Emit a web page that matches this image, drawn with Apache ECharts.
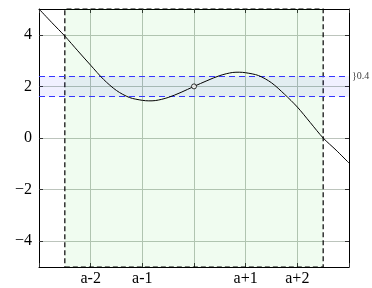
<!DOCTYPE html>
<html>
<head>
<meta charset="utf-8">
<script src="https://cdn.jsdelivr.net/npm/echarts@6/dist/echarts.min.js"></script>
<style>
html,body{margin:0;padding:0;background:#fff;}
#chart{width:372px;height:288px;}
</style>
</head>
<body>
<div id="chart"></div>
<script>
// curve samples (x offset from a)
var curveX = [-3, -2.75, -2.5, -2.25, -2, -1.75, -1.5, -1.25, -1, -0.875, -0.75, -0.5, -0.25, 0, 0.25, 0.5, 0.75, 0.875, 1, 1.25, 1.5, 1.75, 2, 2.25, 2.5, 2.75, 3];
var curveY = [5.0, 4.47, 3.95, 3.38, 2.82, 2.27, 1.84, 1.57, 1.46, 1.44, 1.45, 1.57, 1.77, 2.0, 2.22, 2.42, 2.54, 2.55, 2.53, 2.42, 2.14, 1.7, 1.2, 0.6, 0.0, -0.47, -0.97];
// the marked point
var pointX = 0;
var pointY = 2;
// epsilon band
var epsilon = 0.4;
// delta region (x range)
var deltaRange = [-2.5, 2.5];
// axes
var xRange = [-3, 3];
var yRange = [-5, 5];
var xTickValues = [-3, -2, -1, 0, 1, 2, 3];
var xTickLabels = ['', 'a-2', 'a-1', '', 'a+1', 'a+2', ''];
var yTickValues = [-4, -2, 0, 2, 4];
var epsLabel = '}0.4';

var curveData = curveX.map(function (x, i) { return [x, curveY[i]]; });
var FONT = '"Liberation Serif", serif';

var chart = echarts.init(document.getElementById('chart'), null, {renderer: 'canvas'});
var tickStyle = {color: '#333', width: 1};
var option = {
  animation: false,
  textStyle: {fontFamily: FONT},
  grid: {left: 39, right: 23, top: 9, bottom: 21, containLabel: false},
  xAxis: [{
    type: 'value', min: xRange[0], max: xRange[1], interval: 1, position: 'bottom',
    axisLine: {show: true, onZero: false, lineStyle: {color: '#000', width: 1}},
    axisTick: {show: true, inside: true, length: 4, lineStyle: tickStyle},
    axisLabel: {
      show: true, margin: 4, color: '#000', fontFamily: FONT, fontSize: 16,
      formatter: function (v) { var i = xTickValues.indexOf(v); return i >= 0 ? xTickLabels[i] : ''; }
    },
    splitLine: {show: true, lineStyle: {color: '#bcc4bc', width: 1}}
  }, {
    type: 'value', min: xRange[0], max: xRange[1], interval: 1, position: 'top',
    axisLine: {show: true, onZero: false, lineStyle: {color: '#000', width: 1}},
    axisTick: {show: true, inside: true, length: 4, lineStyle: tickStyle},
    axisLabel: {show: false},
    splitLine: {show: false}
  }],
  yAxis: [{
    type: 'value', min: yRange[0], max: yRange[1], splitNumber: 5, position: 'left',
    axisLine: {show: true, onZero: false, lineStyle: {color: '#000', width: 1}},
    axisTick: {show: true, inside: true, length: 4, lineStyle: tickStyle, customValues: yTickValues},
    axisLabel: {
      show: true, margin: 7, color: '#000', fontFamily: FONT, fontSize: 16, customValues: yTickValues,
      formatter: function (v) { return v < 0 ? '\u2212' + (-v) : String(v); }
    },
    splitLine: {show: true, lineStyle: {color: '#bcc4bc', width: 1}}
  }, {
    type: 'value', min: yRange[0], max: yRange[1], splitNumber: 5, position: 'right',
    axisLine: {show: true, onZero: false, lineStyle: {color: '#000', width: 1}},
    axisTick: {show: true, inside: true, length: 4, lineStyle: tickStyle, customValues: yTickValues},
    axisLabel: {show: false},
    splitLine: {show: false}
  }],
  series: [{
    name: 'regions', type: 'line', data: [], xAxisIndex: 0, yAxisIndex: 0, z: 2,
    markArea: {
      silent: true,
      data: [
        [{coord: [deltaRange[0], yRange[0]], itemStyle: {color: 'rgba(0,204,0,0.06)', borderColor: '#000', borderWidth: 1.2, borderType: [5, 3]}},
         {coord: [deltaRange[1], yRange[1]]}],
        [{coord: [xRange[0], pointY - epsilon], itemStyle: {color: 'rgba(0,0,255,0.06)', borderWidth: 0}},
         {coord: [xRange[1], pointY + epsilon]}]
      ]
    },
    markLine: {
      silent: true, symbol: ['none', 'none'],
      label: {show: false},
      lineStyle: {color: '#3535ff', width: 1, type: [6, 4]},
      data: [{yAxis: pointY - epsilon}, {yAxis: pointY + epsilon}]
    },
    markPoint: {
      silent: true, symbol: 'circle', symbolSize: 0,
      label: {show: true, position: 'right', distance: 3, color: '#444', fontFamily: FONT, fontSize: 10,
        formatter: function () { return epsLabel; }},
      data: [{coord: [xRange[1], pointY + epsilon]}]
    }
  }, {
    name: 'f', type: 'line', data: curveData, smooth: 0.3, showSymbol: false, z: 5,
    lineStyle: {color: '#000', width: 1}
  }, {
    name: 'point', type: 'scatter', data: [[pointX, pointY]], symbol: 'circle', symbolSize: 5, z: 10,
    itemStyle: {color: '#fff', borderColor: '#000', borderWidth: 1}
  }]
};
chart.setOption(option);
</script>
</body>
</html>
